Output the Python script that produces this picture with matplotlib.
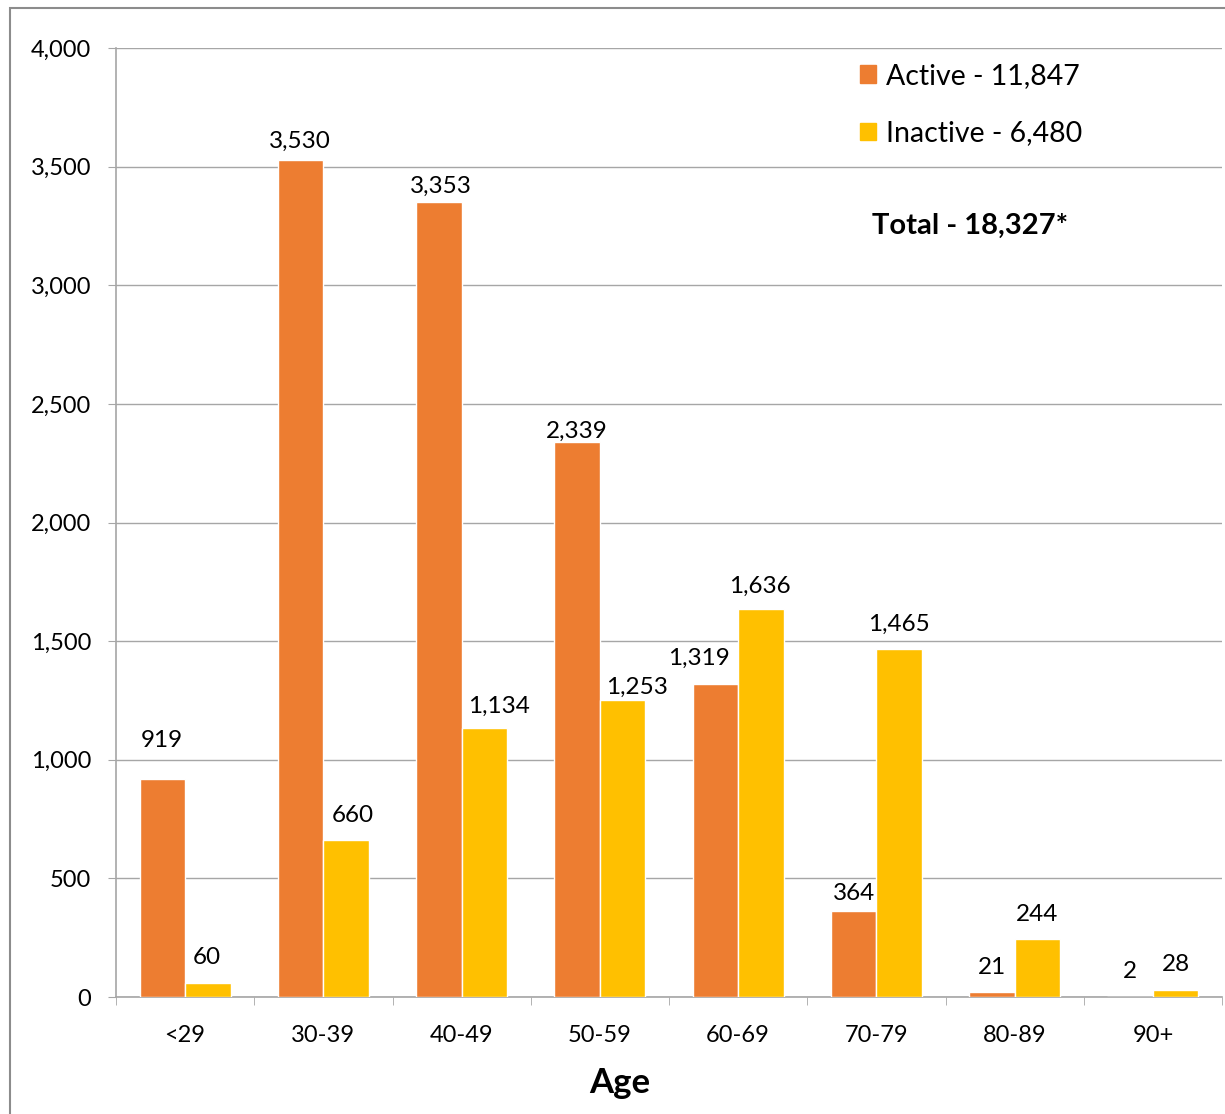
import matplotlib
matplotlib.use("Agg")
import matplotlib.pyplot as plt
from matplotlib.patches import Rectangle, Patch
from matplotlib.ticker import FuncFormatter

# data
ages = ['<29', '30-39', '40-49', '50-59', '60-69', '70-79', '80-89', '90+']
active = [919, 3530, 3353, 2339, 1319, 364, 21, 2]
inactive = [60, 660, 1134, 1253, 1636, 1465, 244, 28]
legend_labels = ['Active - 11,847', 'Inactive - 6,480']
total_text = 'Total - 18,327*'

# label nudges (pixels) to follow the hand-placed labels of the original
active_nudge = [(-1, 38), (-1, 18), (2, 15), (0, 11), (-16, 26), (0, 17), (0, 25), (0, 25)]
inactive_nudge = [(-1, 25), (7, 25), (15, 22), (14, 12), (-1, 23), (0, 25), (0, 25), (0, 26)]

orange = '#ED7D31'
yellow = '#FFC000'
grey = '#A6A6A6'

plt.rcParams['font.family'] = ['Lato', 'DejaVu Sans']

fig = plt.figure(figsize=(12.25, 11.14), dpi=100)
ax = fig.add_axes([116 / 1225, 1 - 997 / 1114, 1106 / 1225, 949 / 1114])

x = list(range(len(ages)))
w = 0.33
bars_a = ax.bar([i - w / 2 for i in x], active, width=w, color=orange,
                edgecolor='white', linewidth=1, zorder=3)
bars_i = ax.bar([i + w / 2 for i in x], inactive, width=w, color=yellow,
                edgecolor='white', linewidth=1, zorder=3)

# value labels
for bars, vals, nudges in [(bars_a, active, active_nudge), (bars_i, inactive, inactive_nudge)]:
    for b, v, (dx, dy) in zip(bars, vals, nudges):
        ax.annotate(f'{v:,}', (b.get_x() + b.get_width() / 2, v),
                    xytext=(dx, dy), textcoords='offset pixels',
                    ha='center', va='center', fontsize=17.5, color='black')

ax.set_xlim(-0.5, len(ages) - 0.5)
ax.set_ylim(0, 4000)
ax.set_yticks(range(0, 4001, 500))
ax.yaxis.set_major_formatter(FuncFormatter(lambda v, p: f'{int(v):,}'))
ax.set_xticks(x)
ax.set_xticklabels(ages)
ax.set_xticks([i - 0.5 for i in range(len(ages) + 1)], minor=True)

ax.grid(axis='y', color=grey, linewidth=1, zorder=0)
ax.set_axisbelow(True)
for s in ['top', 'right']:
    ax.spines[s].set_visible(False)
for s in ['left', 'bottom']:
    ax.spines[s].set_color(grey)
    ax.spines[s].set_linewidth(1.2)

ax.tick_params(axis='y', length=6, color=grey, labelsize=17, pad=12)
ax.tick_params(axis='x', which='major', length=0, labelsize=17, pad=20)
ax.tick_params(axis='x', which='minor', length=6, color=grey)

# legend
handles = [Patch(color=orange), Patch(color=yellow)]
ax.legend(handles, legend_labels, loc='upper left', bbox_to_anchor=(860 / 1225, 1 - 63 / 1114),
          bbox_transform=fig.transFigure, frameon=False, fontsize=20.5,
          handlelength=0.55, handleheight=0.55, handletextpad=0.35, labelspacing=1.1,
          borderaxespad=0, borderpad=0)

fig.text(872 / 1225, 1 - 226 / 1114, total_text, fontsize=21, fontweight='bold',
         ha='left', va='center')
fig.text(620 / 1225, 1 - 1083 / 1114, 'Age', fontsize=25, fontweight='bold',
         ha='center', va='center')

# outer chart border
fig.patches.append(Rectangle((10 / 1225, -0.1), 1.2, 0.1 + 1 - 8 / 1114,
                             transform=fig.transFigure, fill=False,
                             edgecolor='#8C8C8C', linewidth=1.5))

fig.savefig('out.png', dpi=100)
